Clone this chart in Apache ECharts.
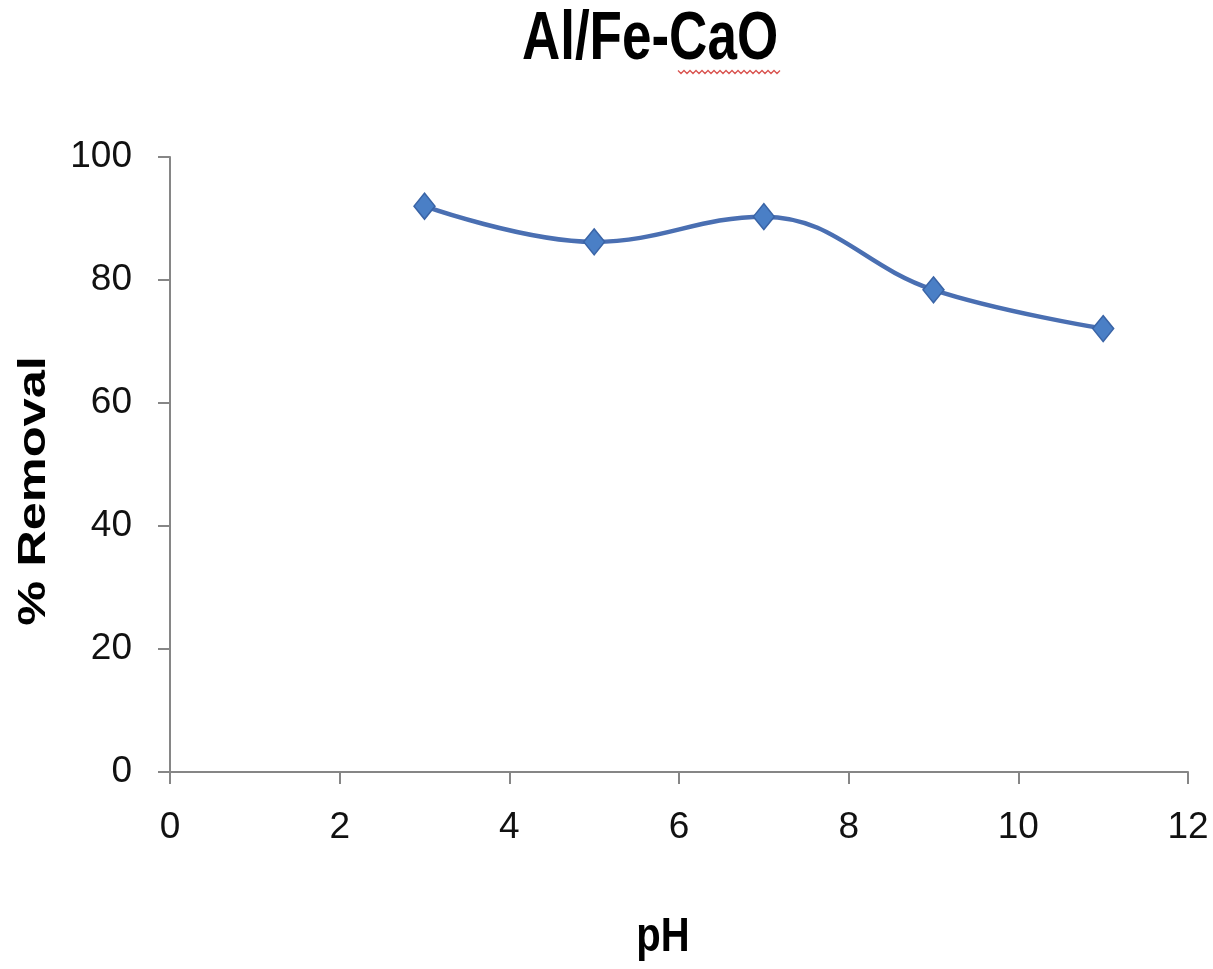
<!DOCTYPE html>
<html>
<head>
<meta charset="utf-8">
<script src="https://cdn.jsdelivr.net/npm/echarts@6/dist/echarts.min.js"></script>
<style>
  html, body { margin: 0; padding: 0; background: #ffffff; }
  #chart { width: 1213px; height: 969px; }
</style>
</head>
<body>
<div id="chart"></div>
<script>
// pH values tested and the corresponding removal percentages
const phValues = [3, 5, 7, 9, 11];
const removalPct = [92, 86.2, 90.3, 78.4, 72.1];

// axis ranges and tick spacing
const xTicks = { min: 0, max: 12, interval: 2 };
const yTicks = { min: 0, max: 100, interval: 20 };

const titleText = 'Al/Fe-CaO';
const xName = 'pH';
const yName = '% Removal';

const sans = '"Liberation Sans", Arial, sans-serif';
const axisGray = '#868686';

// red wavy spell-check underline beneath "CaO"
function wavyLine(x0, x1, y, amp, step) {
  const pts = [];
  let up = true;
  for (let x = x0; x <= x1; x += step) {
    pts.push([x, y + (up ? -amp : amp)]);
    up = !up;
  }
  return pts;
}

const chart = echarts.init(document.getElementById('chart'), null, { renderer: 'canvas' });

chart.setOption({
  animation: false,
  backgroundColor: '#ffffff',
  grid: { left: 170, right: 25, top: 157, bottom: 197, containLabel: false },
  xAxis: {
    type: 'value',
    min: xTicks.min, max: xTicks.max, interval: xTicks.interval,
    axisLine: { show: true, onZero: false, lineStyle: { color: axisGray, width: 2 } },
    axisTick: { show: true, length: 12, lineStyle: { color: axisGray, width: 2 } },
    splitLine: { show: false },
    axisLabel: { fontSize: 37, fontFamily: sans, color: '#111', margin: 37 }
  },
  yAxis: {
    type: 'value',
    min: yTicks.min, max: yTicks.max, interval: yTicks.interval,
    axisLine: { show: true, onZero: false, lineStyle: { color: axisGray, width: 2 } },
    axisTick: { show: true, length: 12, lineStyle: { color: axisGray, width: 2 } },
    splitLine: { show: false },
    axisLabel: { fontSize: 37, fontFamily: sans, color: '#111', margin: 38 }
  },
  series: [{
    type: 'line',
    data: phValues.map((x, i) => [x, removalPct[i]]),
    smooth: 0.4,
    symbol: 'diamond',
    symbolSize: [21, 26],
    lineStyle: { color: '#4A6FB2', width: 4.5 },
    itemStyle: { color: '#4A7FC6', borderColor: '#3A64A6', borderWidth: 1.5 }
  }],
  graphic: [
    {
      type: 'text', x: 650, y: 40, scaleY: 1.3,
      style: { text: titleText, x: 0, y: 0, textAlign: 'center', textVerticalAlign: 'middle',
               font: 'bold 53px ' + sans, fill: '#000' }
    },
    {
      type: 'polyline', silent: true,
      shape: { points: wavyLine(678, 782, 72, 1.5, 3) },
      style: { stroke: '#d9534f', lineWidth: 1.3, fill: null }
    },
    {
      type: 'text', x: 663, y: 938, scaleY: 1.2,
      style: { text: xName, x: 0, y: 0, textAlign: 'center', textVerticalAlign: 'middle',
               font: 'bold 40px ' + sans, fill: '#000' }
    },
    {
      type: 'text', x: 35, y: 491, rotation: Math.PI / 2, scaleX: 1.33,
      style: { text: yName, x: 0, y: 0, textAlign: 'center', textVerticalAlign: 'middle',
               font: 'bold 38px ' + sans, fill: '#000' }
    }
  ]
});
</script>
</body>
</html>
